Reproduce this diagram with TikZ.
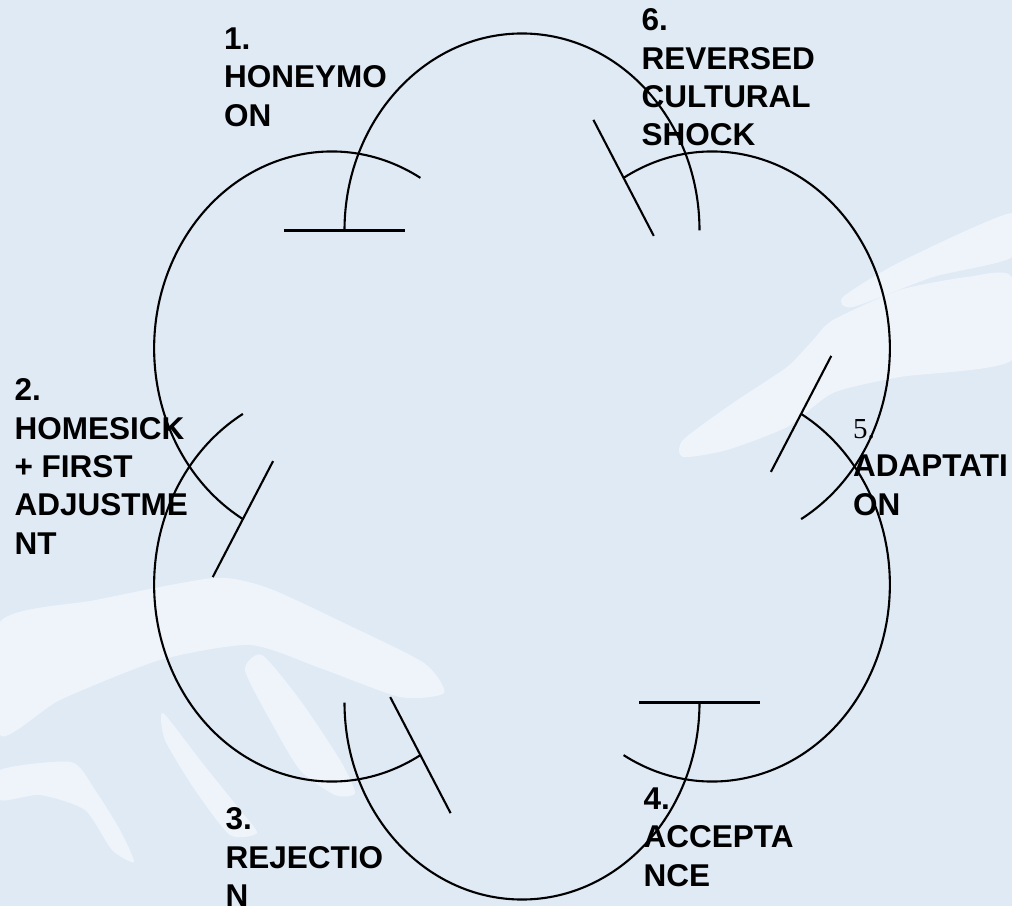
\documentclass[tikz,border=0pt]{standalone}
\usepackage{fontspec}
\setmainfont{Liberation Sans}
\newfontfamily\numfont{Liberation Serif}
\usepackage{tikz}

\definecolor{slide}{RGB}{224,234,245}
\definecolor{hand}{RGB}{239,244,251}

\begin{document}
\begin{tikzpicture}[
  x=1pt, y=1pt,
  petal/.style={draw=black, line width=2.1pt},
  stage/.style={anchor=north west, inner sep=0pt, align=left,
    font=\fontsize{31.5}{38.3}\selectfont\bfseries},
  ghost/.style={fill=hand, draw=none}
]
\path[use as bounding box, fill=slide] (0,0) rectangle (1012,906);
\clip (0,0) rectangle (1012,906);

% faint hands behind the cycle (screen coordinates)
\begin{scope}[shift={(0,906)}, yscale=-1]
\fill[ghost] plot[smooth cycle, tension=0.4] coordinates {(0,622) (96,600) (214,578)
  (268,588) (344,623) (424,663) (444,693) (400,697) (320,668) (250,645)
  (160,660) (60,700) (0,735)};
\fill[ghost] plot[smooth cycle, tension=0.4] coordinates {(262,655) (300,700)
  (340,760) (355,793) (335,795) (300,770) (270,720) (245,670)};
\fill[ghost] plot[smooth cycle, tension=0.4] coordinates {(163,713) (200,760)
  (240,810) (257,833) (230,835) (195,790) (165,740)};
\fill[ghost] plot[smooth cycle, tension=0.4] coordinates {(0,770) (71,762)
  (95,790) (120,830) (134,862) (112,850) (85,810) (40,795) (0,800)};
\fill[ghost] plot[smooth cycle, tension=0.4] coordinates {(683,457) (727,450)
  (787,427) (833,393) (900,377) (1012,360) (1012,277) (967,277) (900,290)
  (833,320) (813,340) (787,367) (733,403) (683,440)};
\fill[ghost] plot[smooth cycle, tension=0.4] coordinates {(843,297) (900,262)
  (1012,213) (1012,257) (933,277) (853,307)};

% stage labels
\node[stage] (s1) at (224,27.8) {1.\\HONEYMO\\ON};
\node[stage] (s2) at (14.4,378.8) {2.\\HOMESICK\\+ FIRST\\ADJUSTME\\NT};
\node[stage] (s3) at (225.4,807.8) {3.\\REJECTIO\\N};
\node[stage] (s4) at (643.5,787.8) {4.\\ACCEPTA\\NCE};
\node[stage] (s5) at (853,419.5) {{\numfont\mdseries\fontsize{29}{38.3}\selectfont 5.}\\ADAPTATI\\ON};
\node[stage] (s6) at (641.4,8.8) {6.\\REVERSED\\CULTURAL\\SHOCK};
\end{scope}

% six arcs, each ending in a bar
\begin{scope}[shift={(522,439.5)}, xscale=177.5, yscale=197]
\foreach \a in {90,150,...,420} {
  \coordinate (c\a) at ({1.239*cos(\a)},{1.2005*sin(\a)});
  \draw[petal] (c\a) ++(\a+90:1) arc[start angle=\a+90, delta angle=-180, radius=1];
  \draw[petal] (c\a) ++(\a+90:0.66) -- ++(\a+90:0.68);
}
\end{scope}
\end{tikzpicture}
\end{document}
